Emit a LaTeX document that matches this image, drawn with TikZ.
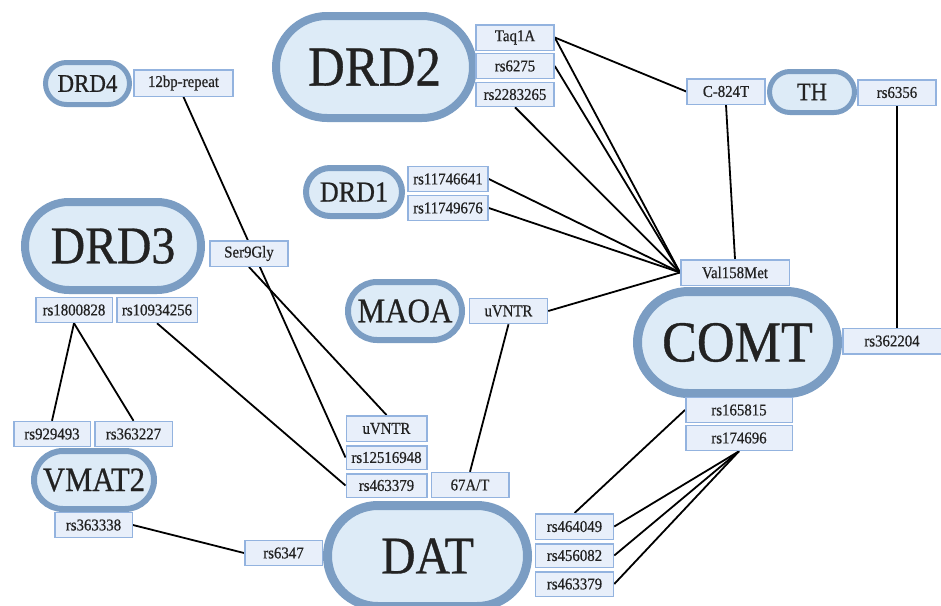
\documentclass[tikz,border=0pt]{standalone}
\usepackage{fontspec}
\setmainfont[FakeStretch=0.9,FakeBold=0.6]{Liberation Serif}
\definecolor{geneline}{HTML}{7B9DC3}
\definecolor{genefill}{HTML}{DDEBF7}
\definecolor{snpline}{HTML}{93B3DF}
\definecolor{snpfill}{HTML}{E8EFFA}
\definecolor{ink}{HTML}{222222}
\pgfdeclarelayer{bg}
\pgfsetlayers{bg,main}
\tikzset{
  pill/.style n args={3}{draw=geneline, fill=genefill, text=ink, inner sep=0pt,
    minimum width=#1, minimum height=#2, rounded corners=#2/2, line width=#3},
  snp/.style={draw=snpline, fill=snpfill, text=ink, inner sep=0pt, line width=1.5pt,
    minimum width=78pt, minimum height=25pt, font=\fontsize{16.5}{17}\selectfont},
  link/.style={line width=1.8pt, black}
}
\newcommand{\fs}[1]{\fontsize{#1}{#1}\selectfont}

\begin{document}
\begin{tikzpicture}[x=1pt,y=-1pt]
\useasboundingbox (0,0) rectangle (941,605);

\node[pill={197pt}{102pt}{8pt}, font=\fs{56.5}] (drd2) at (374.5, 67) {DRD2};
\node[pill={84pt}{42pt}{5pt}, font=\fs{25.5}] (drd4) at (87.5, 83.5) {DRD4};
\node[pill={96pt}{48pt}{6pt}, font=\fs{29}] (drd1) at (354, 192) {DRD1};
\node[pill={176pt}{88pt}{8pt}, font=\fs{53}] (drd3) at (113, 246) {DRD3};
\node[pill={114pt}{58pt}{6pt}, font=\fs{34.5}] (maoa) at (405, 311) {MAOA};
\node[pill={85pt}{41pt}{5pt}, font=\fs{25}] (th) at (812, 92) {TH};
\node[pill={200pt}{102pt}{9pt}, font=\fs{58}] (comt) at (737.5, 342.5) {COMT};
\node[pill={120pt}{58pt}{6pt}, font=\fs{34}] (vmat2) at (94, 480) {VMAT2};
\node[pill={200pt}{101pt}{9pt}, font=\fs{53}] (dat) at (427.5, 556) {DAT};

\node[snp, minimum height=25.5pt] (taq) at (515, 37.5) {Taq1A};
\node[snp] (rs6275) at (515, 66) {rs6275};
\node[snp, minimum height=24pt] (rs2283265) at (515, 94.5) {rs2283265};
\node[snp, minimum width=99pt, minimum height=26.5pt] (bp12) at (183.5, 83) {12bp-repeat};
\node[snp, minimum width=80pt] (rs11746641) at (448, 179) {rs11746641};
\node[snp, minimum width=80pt] (rs11749676) at (448, 208) {rs11749676};
\node[snp, minimum height=25.5pt] (ser9) at (249, 253.5) {Ser9Gly};
\node[snp, minimum width=76.5pt] (rs1800828) at (74, 310) {rs1800828};
\node[snp, minimum width=80.5pt] (rs10934256) at (157, 310) {rs10934256};
\node[snp] (uvntrm) at (508.5, 311) {uVNTR};
\node[snp, minimum height=25.5pt] (c824) at (726, 91.5) {C-824T};
\node[snp, minimum height=25.5pt] (rs6356) at (897, 92.5) {rs6356};
\node[snp, minimum width=108.5pt, minimum height=25.5pt] (val) at (735, 272.5) {Val158Met};
\node[snp, minimum width=98.5pt, minimum height=25.5pt] (rs362204) at (892, 341) {rs362204};
\node[snp, minimum width=106.5pt] (rs165815) at (739, 410) {rs165815};
\node[snp, minimum width=106.5pt] (rs174696) at (739, 438) {rs174696};
\node[snp, minimum width=76.5pt] (rs929493) at (52, 434) {rs929493};
\node[snp, minimum width=77.5pt] (rs363227) at (133.5, 434) {rs363227};
\node[snp, minimum width=77.5pt] (rs363338) at (93.5, 525) {rs363338};
\node[snp, minimum width=77.5pt] (rs6347) at (283.5, 553) {rs6347};
\node[snp, minimum width=80.5pt, minimum height=25.5pt] (uvntrd) at (386.5, 428.5) {uVNTR};
\node[snp, minimum width=80.5pt, minimum height=23.5pt] (rs12516948) at (386.5, 457.5) {rs12516948};
\node[snp, minimum width=80.5pt, minimum height=23.5pt] (rs463379a) at (386.5, 485.5) {rs463379};
\node[snp, minimum width=77.5pt] (a67t) at (470, 485) {67A/T};
\node[snp, minimum height=25.5pt] (rs464049) at (574.5, 526.5) {rs464049};
\node[snp, minimum height=23.5pt] (rs456082) at (574.5, 555.5) {rs456082};
\node[snp, minimum height=24.5pt] (rs463379b) at (574.5, 584) {rs463379};

\begin{pgfonlayer}{bg}
\draw[link] (taq.east) -- (c824.west);
\draw[link] (taq.east) -- (val.west);
\draw[link] (rs6275.east) -- (val.west);
\draw[link] (rs2283265.south) -- (val.west);
\draw[link] (rs11746641.east) -- (val.west);
\draw[link] (rs11749676.east) -- (val.west);
\draw[link] (uvntrm.east) -- (val.west);
\draw[link] (c824.south) -- (val.north);
\draw[link] (rs6356.south) -- (rs6356.south |- rs362204.north);
\draw[link] (bp12.south) -- (rs12516948.west);
\draw[link] (ser9.south) -- (uvntrd.north);
\draw[link] (rs10934256.south) -- (rs463379a.west);
\draw[link] (rs1800828.south) -- (rs929493.north);
\draw[link] (rs1800828.south) -- (rs363227.north);
\draw[link] (rs363338.east) -- (rs6347.west);
\draw[link] (a67t.north) -- (uvntrm.south);
\draw[link] (rs165815.west) -- (rs464049.north);
\draw[link] (rs174696.south) -- (rs464049.east);
\draw[link] (rs174696.south) -- (rs456082.east);
\draw[link] (rs174696.south) -- (rs463379b.east);
\end{pgfonlayer}
\end{tikzpicture}
\end{document}
